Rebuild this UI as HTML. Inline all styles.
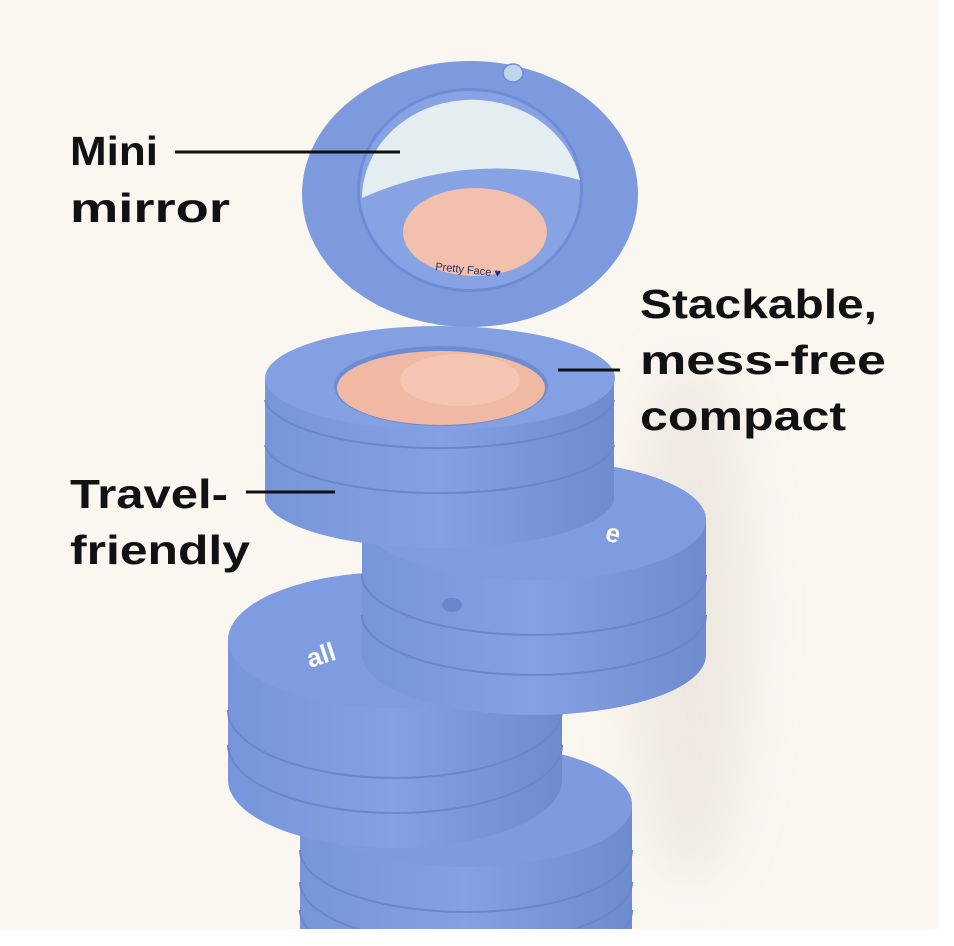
<!DOCTYPE html>
<html><head><style>
html,body{margin:0;padding:0;background:#fff;}
svg{display:block}
text{font-family:"Liberation Sans",sans-serif;font-weight:bold;fill:#111;}
</style></head><body>
<svg width="954" height="946" viewBox="0 0 954 946" xmlns="http://www.w3.org/2000/svg">
<defs>
<clipPath id="bg"><rect x="0" y="0" width="938" height="929"/></clipPath>
<linearGradient id="side" x1="0" x2="1" y1="0" y2="0">
<stop offset="0" stop-color="#7795da"/><stop offset="0.5" stop-color="#84a1e2"/><stop offset="1" stop-color="#6f8bd0"/>
</linearGradient>
<filter id="blur" x="-100%" y="-50%" width="300%" height="200%"><feGaussianBlur stdDeviation="25"/></filter>
</defs>
<rect x="0" y="0" width="954" height="946" fill="#fff"/>
<rect x="0" y="0" width="938" height="929" fill="#faf6f0"/>
<g clip-path="url(#bg)">
<!-- shadow -->
<ellipse cx="690" cy="620" rx="60" ry="260" fill="#e6e0d8" opacity="0.6" filter="url(#blur)"/>

<!-- compact 4 (bottom) -->
<path d="M300,805 A166,62 0 0 1 632,805 L632,960 L300,960 Z" fill="url(#side)"/>
<ellipse cx="466" cy="805" rx="166" ry="62" fill="#7e9be0"/>
<path d="M300,850 A166,62 0 0 0 632,850" fill="none" stroke="#6a86cc" stroke-width="2"/>
<path d="M300,882 A166,62 0 0 0 632,882" fill="none" stroke="#6a86cc" stroke-width="2"/>
<path d="M300,910 A166,62 0 0 0 632,910" fill="none" stroke="#6a86cc" stroke-width="2"/>

<!-- compact 3 (left) -->
<path d="M228,640 A167,68 0 0 1 562,640 L562,780 A167,68 0 0 1 228,780 Z" fill="url(#side)"/>
<ellipse cx="395" cy="640" rx="167" ry="68" fill="#7f9ce0"/>
<path d="M228,710 A167,68 0 0 0 562,710" fill="none" stroke="#6a86cc" stroke-width="2"/>
<path d="M228,745 A167,68 0 0 0 562,745" fill="none" stroke="#6a86cc" stroke-width="2"/>
<text x="310" y="668" transform="rotate(-18 310 668)" style="fill:#fff;font-size:26px">all</text>

<!-- compact 2 (right) -->
<path d="M362,520 A172,60 0 0 1 706,520 L706,655 A172,60 0 0 1 362,655 Z" fill="url(#side)"/>
<ellipse cx="534" cy="520" rx="172" ry="60" fill="#7f9ce0"/>
<path d="M362,575 A172,60 0 0 0 706,575" fill="none" stroke="#6a86cc" stroke-width="2"/>
<path d="M362,615 A172,60 0 0 0 706,615" fill="none" stroke="#6a86cc" stroke-width="2"/>
<text x="604" y="540" transform="rotate(15 604 540)" style="fill:#fff;font-size:26px">e</text>
<ellipse cx="452" cy="605" rx="10" ry="7" fill="#6a86cc"/>

<!-- lid -->
<ellipse cx="470" cy="194" rx="168" ry="133" fill="#7d9ade"/>
<ellipse cx="470" cy="190" rx="113" ry="102" fill="#6f8bd3"/>
<ellipse cx="470" cy="190" rx="110" ry="99" fill="#87a3e4"/>
<path d="M362,198 A110,99 0 0 1 580,180 Q470,150 362,198 Z" fill="#e4eef0"/>
<ellipse cx="475" cy="232" rx="72" ry="44" fill="#f2c0ad"/>
<ellipse cx="513" cy="73" rx="10" ry="9" fill="#bcd6ee" stroke="#6f8bd3" stroke-width="1.5"/>
<text x="435" y="270" transform="rotate(6 435 270)" style="fill:#27306a;font-size:11px;font-weight:normal">Pretty Face ♥</text>

<!-- compact 1 (top) -->
<path d="M265,378 A175,52 0 0 1 614,378 L614,500 A175,52 0 0 1 265,500 Z" fill="url(#side)"/>
<ellipse cx="440" cy="378" rx="175" ry="52" fill="#82a0e2"/>
<path d="M265,400 A175,52 0 0 0 614,400" fill="none" stroke="#6a86cc" stroke-width="2"/>
<path d="M265,445 A175,52 0 0 0 614,445" fill="none" stroke="#6a86cc" stroke-width="2"/>
<ellipse cx="441" cy="386" rx="107" ry="40" fill="#6f8bd3"/>
<ellipse cx="441" cy="388" rx="104" ry="37" fill="#f0b9a3"/>
<ellipse cx="460" cy="380" rx="60" ry="26" fill="#f6cdbd" opacity="0.6"/>
</g>

<!-- labels -->
<text x="70" y="165" font-size="41" textLength="88" lengthAdjust="spacingAndGlyphs">Mini</text>
<text x="70" y="222" font-size="41" textLength="160" lengthAdjust="spacingAndGlyphs">mirror</text>
<line x1="175" y1="152" x2="400" y2="152" stroke="#111" stroke-width="3"/>
<text x="640" y="318" font-size="41" textLength="237" lengthAdjust="spacingAndGlyphs">Stackable,</text>
<text x="640" y="374" font-size="41" textLength="246" lengthAdjust="spacingAndGlyphs">mess-free</text>
<text x="640" y="430" font-size="41" textLength="206" lengthAdjust="spacingAndGlyphs">compact</text>
<line x1="558" y1="370" x2="620" y2="370" stroke="#111" stroke-width="3"/>
<text x="70" y="508" font-size="41" textLength="158" lengthAdjust="spacingAndGlyphs">Travel-</text>
<text x="70" y="564" font-size="41" textLength="180" lengthAdjust="spacingAndGlyphs">friendly</text>
<line x1="246" y1="492" x2="335" y2="492" stroke="#111" stroke-width="3"/>
</svg>
</body></html>
